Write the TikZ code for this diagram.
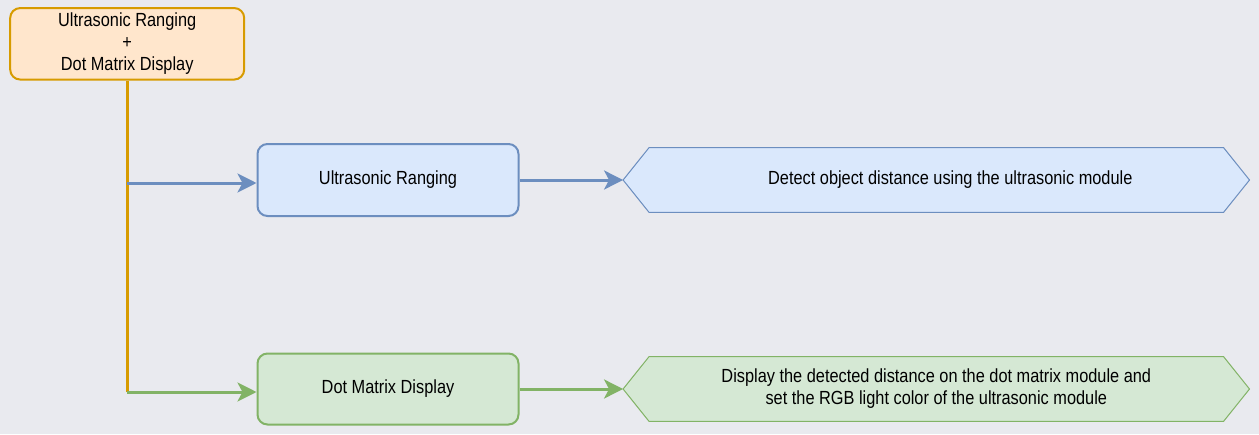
\documentclass[tikz,border=0pt]{standalone}
\usepackage{fontspec}
\setmainfont{Liberation Sans}[FakeStretch=0.86]
\usetikzlibrary{arrows.meta,backgrounds}
\definecolor{bgc}{HTML}{E9EAEF}
\definecolor{ofill}{HTML}{FFE6CC}
\definecolor{oline}{HTML}{D79B00}
\definecolor{bfill}{HTML}{DAE8FC}
\definecolor{bline}{HTML}{6C8EBF}
\definecolor{gfill}{HTML}{D5E8D4}
\definecolor{gline}{HTML}{82B366}
\tikzset{
  boxstyle/.style={draw, line width=2pt, rounded corners=10pt, align=center,
    font=\fontsize{19}{22}\selectfont, inner sep=0pt},
  hexstyle/.style={draw=none, align=center, inner sep=0pt,
    minimum width=574pt, minimum height=64.5pt,
    font=\fontsize{19}{22}\selectfont},
  hexline/.style={line width=1pt},
  conn/.style={line width=3pt},
  tipped/.style={conn, -{Stealth[length=19pt,width=19pt,inset=5pt]}},
}
\begin{document}
\begin{tikzpicture}[x=1pt,y=-1pt]
\begin{pgfonlayer}{background}
\fill[bgc] (0,0) rectangle (1259,434);
\end{pgfonlayer}
\useasboundingbox (0,0) rectangle (1259,434);

\node[boxstyle, draw=oline, fill=ofill, minimum width=234pt, minimum height=71.5pt]
  (top) at (127.2,43.8) {Ultrasonic Ranging\\+\\Dot Matrix Display};
\node[boxstyle, draw=bline, fill=bfill, minimum width=261pt, minimum height=72pt]
  (blue) at (388,180) {Ultrasonic Ranging};
\node[boxstyle, draw=gline, fill=gfill, minimum width=261pt, minimum height=71pt]
  (green) at (388,389) {Dot Matrix Display};

\node[hexstyle] (hb) at (936.3,180) {\hspace*{28pt}Detect object distance using the ultrasonic module};
\node[hexstyle] (hg) at (936.3,389) {Display the detected distance on the dot matrix module and\\set the RGB light color of the ultrasonic module};

\begin{pgfonlayer}{background}
\draw[hexline, draw=bline, fill=bfill] (hb.north west) -- (hb.north east) -- ([xshift=26pt]hb.east)
  -- (hb.south east) -- (hb.south west) -- ([xshift=-26pt]hb.west) -- cycle;
\draw[hexline, draw=gline, fill=gfill] (hg.north west) -- (hg.north east) -- ([xshift=26pt]hg.east)
  -- (hg.south east) -- (hg.south west) -- ([xshift=-26pt]hg.west) -- cycle;
\end{pgfonlayer}

\coordinate (jb) at ([yshift=-3pt]top.south |- blue.west);
\coordinate (jg) at ([yshift=-3pt]top.south |- green.west);

\draw[conn, draw=oline] (top.south) -- (jg);
\draw[tipped, draw=bline, fill=bline] (jb) -- ([yshift=-3pt]blue.west);
\draw[tipped, draw=gline, fill=gline] (jg) -- ([yshift=-3pt]green.west);
\draw[tipped, draw=bline, fill=bline] (blue.east) -- ([xshift=-26pt]hb.west);
\draw[tipped, draw=gline, fill=gline] (green.east) -- ([xshift=-26pt]hg.west);
\end{tikzpicture}
\end{document}
